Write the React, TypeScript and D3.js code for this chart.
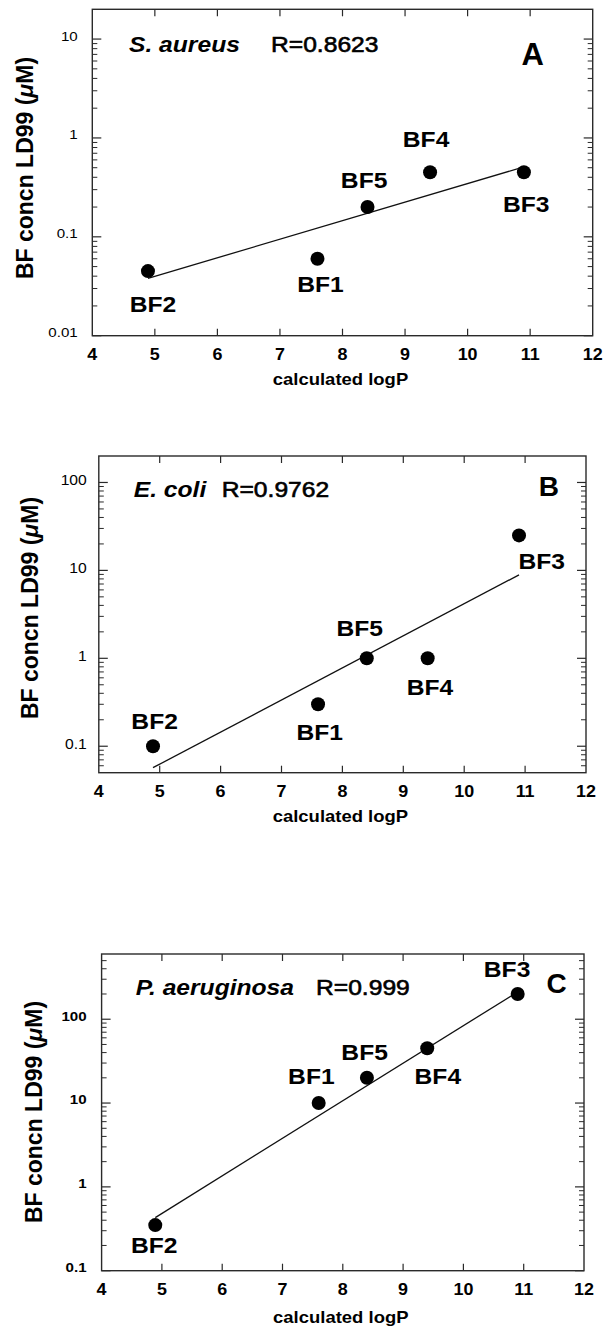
import React from 'react';
import * as d3 from 'd3';

// ---- data ----
const compounds = ['BF1', 'BF2', 'BF3', 'BF4', 'BF5'];
const logP = [7.6, 4.89, 10.9, 9.4, 8.4];
const ld99Aureus = [0.06, 0.045, 0.45, 0.45, 0.2];
const ld99Coli = [0.3, 0.1, 25, 1, 1];
const ld99Aerug = [10, 0.35, 200, 45, 20];
const fitAureus: [number, number][] = [[4.89, 0.038], [10.9, 0.51]];
const fitColi: [number, number][] = [[4.89, 0.057], [10.9, 8.9]];
const fitAerug: [number, number][] = [[4.89, 0.43], [10.9, 212]];
const xTicks = [4, 5, 6, 7, 8, 9, 10, 11, 12];
const yTicksA = [0.01, 0.1, 1, 10];
const yTicksB = [0.1, 1, 10, 100];
const yTicksC = [0.1, 1, 10, 100];
const organisms = ['S. aureus', 'E. coli', 'P. aeruginosa'];
const rLabels = ['R=0.8623', 'R=0.9762', 'R=0.999'];
const panelLetters = ['A', 'B', 'C'];
const yDomains: [number, number][] = [[0.01, 20], [0.05, 200], [0.1, 600]];
const xTitle = 'calculated logP';

const SX = 1.12; // horizontal stretch of the original figure's lettering
const FONT = 'Liberation Sans, Arial, Helvetica, sans-serif';

type Layout = {
  left: number; right: number; top: number; bottom: number;
  orgX: number; orgY: number; rX: number; rY: number; letX: number; letY: number; letSize: number;
  yTitleX: number; yTitleY: number; xTitleY: number;
  yLabGap: number; yLabSize: number; yLabBold: boolean; yLabDy: number;
  labelOffsets: [number, number][];
};

const layouts: Layout[] = [
  {
    left: 92.3, right: 592.7, top: 9.3, bottom: 335.7,
    orgX: 129, orgY: 52, rX: 271, rY: 52, letX: 521.5, letY: 65, letSize: 31,
    yTitleX: 33, yTitleY: 168, xTitleY: 385,
    yLabGap: 14.6, yLabSize: 13.5, yLabBold: false, yLabDy: 1.5,
    labelOffsets: [[3, 33], [5, 40.7], [2.3, 39.7], [-4, -25.3], [-3.4, -19.4]],
  },
  {
    left: 98.8, right: 586, top: 456, bottom: 772.7,
    orgX: 133.7, orgY: 497, rX: 221.7, rY: 497, letX: 538.8, letY: 496, letSize: 28,
    yTitleX: 38, yTitleY: 608, xTitleY: 822,
    yLabGap: 12, yLabSize: 14, yLabBold: false, yLabDy: 2.7,
    labelOffsets: [[1.6, 35.7], [1.6, -17], [22.7, 33.3], [2.3, 37], [-7, -22]],
  },
  {
    left: 101.6, right: 584, top: 954, bottom: 1270.7,
    orgX: 135.7, orgY: 995, rX: 316, rY: 995, letX: 546.5, letY: 993, letSize: 28,
    yTitleX: 42, yTitleY: 1112, xTitleY: 1323,
    yLabGap: 15, yLabSize: 13.5, yLabBold: true, yLabDy: 1.4,
    labelOffsets: [[-7.3, -19.3], [-1, 27.6], [-10.6, -17], [10.6, 36], [-2.3, -18]],
  },
];

const seriesValues = [ld99Aureus, ld99Coli, ld99Aerug];
const fits = [fitAureus, fitColi, fitAerug];
const yTickSets = [yTicksA, yTicksB, yTicksC];

function STxt(props: {
  x: number; y: number; size: number; bold?: boolean; italic?: boolean;
  anchor?: 'start' | 'middle' | 'end'; children: React.ReactNode; stroke?: number;
}) {
  const { x, y, size, bold, italic, anchor = 'start', children, stroke } = props;
  return (
    <text
      transform={`translate(${x},${y}) scale(${SX},1)`}
      fontFamily={FONT}
      fontSize={size}
      fontWeight={bold ? 'bold' : 'normal'}
      fontStyle={italic ? 'italic' : 'normal'}
      textAnchor={anchor}
      fill="#000"
      stroke={stroke ? '#000' : 'none'}
      strokeWidth={stroke || 0}
    >
      {children}
    </text>
  );
}

function Panel({ i }: { i: number }) {
  const L = layouts[i];
  const x = d3.scaleLinear().domain([4, 12]).range([L.left, L.right]);
  const y = d3.scaleLog().domain(yDomains[i]).range([L.bottom, L.top]);
  const vals = seriesValues[i];
  const [y0, y1] = yDomains[i];
  const minors: number[] = [];
  for (let d = Math.floor(Math.log10(y0)); d <= Math.ceil(Math.log10(y1)); d++) {
    for (let m = 2; m <= 9; m++) {
      const v = m * Math.pow(10, d);
      if (v > y0 * 1.0001 && v < y1 * 0.9999) minors.push(v);
    }
  }
  const line = d3.line<[number, number]>().x(d => x(d[0])).y(d => y(d[1]));
  const frameColor = '#2a2a2a';
  const cx = (L.left + L.right) / 2;
  return (
    <g>
      {/* ticks */}
      {xTicks.slice(1, -1).map(t => (
        <g key={'xt' + t} stroke={frameColor} strokeWidth={1.2}>
          <line x1={x(t)} x2={x(t)} y1={L.bottom} y2={L.bottom - 7} />
          <line x1={x(t)} x2={x(t)} y1={L.top} y2={L.top + 7} />
        </g>
      ))}
      {yTickSets[i].map(t => (
        <g key={'yt' + t} stroke={frameColor} strokeWidth={1.2}>
          <line x1={L.left} x2={L.left + 9} y1={y(t)} y2={y(t)} />
          <line x1={L.right} x2={L.right - 9} y1={y(t)} y2={y(t)} />
        </g>
      ))}
      {minors.map(t => (
        <g key={'ym' + t} stroke={frameColor} strokeWidth={1}>
          <line x1={L.left} x2={L.left + 5} y1={y(t)} y2={y(t)} />
          <line x1={L.right} x2={L.right - 5} y1={y(t)} y2={y(t)} />
        </g>
      ))}
      <rect x={L.left} y={L.top} width={L.right - L.left} height={L.bottom - L.top}
        fill="none" stroke={frameColor} strokeWidth={1.4} />
      {/* tick labels */}
      {xTicks.map(t => (
        <STxt key={'xl' + t} x={x(t)} y={L.bottom + 24.5} size={16} bold anchor="middle">{t}</STxt>
      ))}
      {yTickSets[i].map(t => (
        <STxt key={'yl' + t} x={L.left - L.yLabGap} y={y(t) + L.yLabDy} size={L.yLabSize}
          bold={L.yLabBold} anchor="end">{String(t)}</STxt>
      ))}
      {/* fit line */}
      <path d={line(fits[i]) || ''} fill="none" stroke="#111" strokeWidth={1.3} />
      {/* points */}
      {compounds.map((c, k) => (
        <circle key={'p' + c} cx={x(logP[k])} cy={y(vals[k])} r={7} fill="#000" />
      ))}
      {compounds.map((c, k) => (
        <STxt key={'l' + c} x={x(logP[k]) + L.labelOffsets[k][0]} y={y(vals[k]) + L.labelOffsets[k][1]}
          size={22} bold anchor="middle">{c}</STxt>
      ))}
      {/* annotations */}
      <STxt x={L.orgX} y={L.orgY} size={22} bold italic>{organisms[i]}</STxt>
      <STxt x={L.rX} y={L.rY} size={22} stroke={0.6}>{rLabels[i]}</STxt>
      <text x={L.letX} y={L.letY} fontFamily={FONT} fontSize={L.letSize} fontWeight="bold" fill="#000">
        {panelLetters[i]}
      </text>
      {/* axis titles */}
      <text transform={`translate(${L.yTitleX},${L.yTitleY}) rotate(-90)`} fontFamily={FONT}
        fontSize={23} fontWeight="bold" textAnchor="middle" fill="#000">
        BF concn LD99 (<tspan fontStyle="italic">μ</tspan>M)
      </text>
      <STxt x={cx - 2} y={L.xTitleY} size={16.5} bold anchor="middle">{xTitle}</STxt>
    </g>
  );
}

export default function App() {
  return (
    <svg width={606} height={1328} viewBox="0 0 606 1328"
      style={{ position: 'absolute', left: 0, top: 0, background: '#fff' }}>
      <rect x={0} y={0} width={606} height={1328} fill="#fff" />
      {[0, 1, 2].map(i => <Panel key={i} i={i} />)}
    </svg>
  );
}
